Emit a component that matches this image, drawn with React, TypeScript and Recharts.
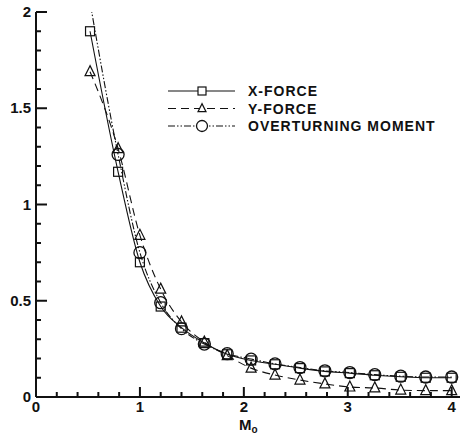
import React from "react";
import { LineChart, Line, XAxis, YAxis } from "recharts";

// Mach number stations
const MACH = [0.52, 0.79, 1.0, 1.2, 1.4, 1.62, 1.84, 2.07, 2.3, 2.54, 2.78, 3.02, 3.26, 3.51, 3.75, 4.0];
const X_FORCE = [1.9, 1.17, 0.7, 0.47, 0.36, 0.28, 0.222, 0.19, 0.17, 0.15, 0.133, 0.124, 0.113, 0.105, 0.1, 0.1];
const Y_FORCE = [1.69, 1.29, 0.84, 0.56, 0.39, 0.285, 0.215, 0.15, 0.114, 0.088, 0.068, 0.052, 0.047, 0.036, 0.033, 0.033];
// first point has no symbol, the curve just runs out through the top
const MOMENT = [2.05, 1.26, 0.75, 0.49, 0.355, 0.275, 0.225, 0.197, 0.172, 0.153, 0.136, 0.127, 0.116, 0.108, 0.104, 0.104];

const X_LABELS = [0, 1, 2, 3, 4];
const X_TICKS = [0, 0.2, 0.4, 0.6, 0.8, 1, 1.2, 1.4, 1.6, 1.8, 2, 2.2, 2.4, 2.6, 2.8, 3, 3.2, 3.4, 3.6, 3.8, 4];
const Y_LABELS = [0, 0.5, 1, 1.5, 2];
const Y_TICKS = [0, 0.1, 0.2, 0.3, 0.4, 0.5, 0.6, 0.7, 0.8, 0.9, 1, 1.1, 1.2, 1.3, 1.4, 1.5, 1.6, 1.7, 1.8, 1.9, 2];

const INK = "#111";
const FONT = "'Liberation Sans', Arial, sans-serif";

const xForceData = MACH.map((m, i) => ({ m, v: X_FORCE[i] }));
const yForceData = MACH.map((m, i) => ({ m, v: Y_FORCE[i] }));
const momentData = MACH.map((m, i) => ({ m, v: MOMENT[i] }));

const isMajor = (list: number[], v: number) => list.some((l) => Math.abs(l - v) < 1e-6);

const Square = ({ cx, cy, s = 9, fill = "none" }: any) => (
  <rect x={cx - s / 2} y={cy - s / 2} width={s} height={s} fill={fill} stroke={INK} strokeWidth={1.2} />
);
const Triangle = ({ cx, cy, s = 10, fill = "none" }: any) => (
  <polygon
    points={`${cx},${cy - s * 0.6} ${cx - s / 2},${cy + s * 0.4} ${cx + s / 2},${cy + s * 0.4}`}
    fill={fill}
    stroke={INK}
    strokeWidth={1.2}
  />
);
const Ring = ({ cx, cy, s = 12, fill = "none" }: any) => (
  <circle cx={cx} cy={cy} r={s / 2} fill={fill} stroke={INK} strokeWidth={1.3} />
);

const SERIES = [
  { name: "X-FORCE", data: xForceData, dash: undefined, Mark: Square, skipFirst: false },
  { name: "Y-FORCE", data: yForceData, dash: "8 5", Mark: Triangle, skipFirst: false },
  { name: "OVERTURNING MOMENT", data: momentData, dash: "7 2 1.5 2 1.5 2", Mark: Ring, skipFirst: true },
];

// tick marks point into the plot; tickSize is 0 so the axis sits tickMargin away from x/y
const YTick = ({ x, y, payload }: any) => {
  const v = payload.value;
  const major = isMajor(Y_LABELS, v);
  const ax = Number(x) + 5;
  return (
    <g>
      <line x1={ax} x2={ax + (major ? 11 : 5)} y1={y} y2={y} stroke={INK} strokeWidth={2} />
      {major && (
        <text x={x} y={y} dy={5} textAnchor="end" fontFamily={FONT} fontWeight="bold" fontSize={15} fill={INK}>
          {String(v)}
        </text>
      )}
    </g>
  );
};

const XTick = ({ x, y, payload }: any) => {
  const v = payload.value;
  const major = isMajor(X_LABELS, v);
  const ay = Number(y) - 4;
  return (
    <g>
      <line x1={x} x2={x} y1={ay} y2={ay - (major ? 10 : 5)} stroke={INK} strokeWidth={2} />
      {major && (
        <text x={x} y={ay} dy={15} textAnchor="middle" fontFamily={FONT} fontWeight="bold" fontSize={15} fill={INK}>
          {String(v)}
        </text>
      )}
    </g>
  );
};

function LegendBox() {
  const rows = [91, 108.5, 126];
  return (
    <svg width={460} height={434} style={{ position: "absolute", left: 0, top: 0, pointerEvents: "none" }}>
      {SERIES.map((s, i) => {
        const y = rows[i];
        const M = s.Mark;
        return (
          <g key={s.name}>
            <line x1={168} x2={235} y1={y} y2={y} stroke={INK} strokeWidth={1.1} strokeDasharray={s.dash} />
            <M cx={202} cy={y} s={i === 2 ? 11 : 8} fill="#fff" />
            <text x={248} y={y + 5} fontFamily={FONT} fontWeight="bold" fontSize={14} letterSpacing={1} fill={INK}>
              {s.name}
            </text>
          </g>
        );
      })}
      <text x={239} y={430} fontFamily={FONT} fontWeight="bold" fontSize={15} fill={INK}>
        M
        <tspan fontSize={10} dy={3}>
          o
        </tspan>
      </text>
    </svg>
  );
}

export default function App() {
  return (
    <div style={{ position: "absolute", left: 0, top: 0, width: 460, height: 434, background: "#fff" }}>
      <LineChart width={460} height={434} margin={{ top: 12, right: 0, left: 0, bottom: 0 }}>
        <XAxis
          xAxisId="top"
          orientation="top"
          type="number"
          dataKey="m"
          domain={[0, 4.08]}
          height={0}
          tick={false}
          tickLine={false}
          axisLine={{ stroke: INK, strokeWidth: 2 }}
        />
        <XAxis
          dataKey="m"
          type="number"
          domain={[0, 4.08]}
          ticks={X_TICKS}
          interval={0}
          height={37}
          tickSize={0}
          tickMargin={4}
          tickLine={false}
          axisLine={{ stroke: INK, strokeWidth: 2 }}
          tick={<XTick />}
        />
        <YAxis
          type="number"
          domain={[0, 2]}
          ticks={Y_TICKS}
          interval={0}
          width={36}
          tickSize={0}
          tickMargin={5}
          tickLine={false}
          allowDataOverflow
          axisLine={{ stroke: INK, strokeWidth: 2 }}
          tick={<YTick />}
        />
        {SERIES.map((s) => (
          <Line
            key={s.name}
            data={s.data}
            dataKey="v"
            type="monotone"
            stroke={INK}
            strokeWidth={1.1}
            strokeDasharray={s.dash}
            isAnimationActive={false}
            activeDot={false}
            dot={(p: any) =>
              s.skipFirst && p.index === 0 ? <g key={p.index} /> : <s.Mark key={p.index} cx={p.cx} cy={p.cy} />
            }
          />
        ))}
      </LineChart>
      <LegendBox />
    </div>
  );
}
